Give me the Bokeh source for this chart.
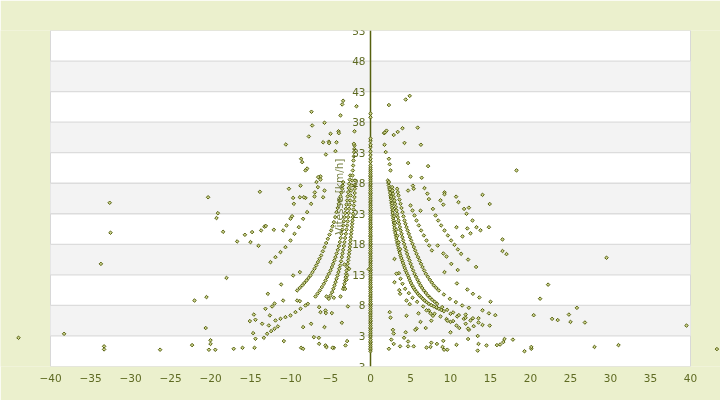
from bokeh.plotting import figure
from bokeh.models import Range1d, FixedTicker, Label, LabelSet, ColumnDataSource
from bokeh.core.properties import value
from bokeh.embed import file_html
from bokeh.resources import INLINE

# ---------------- data ----------------
title_text = "VITESSE vs PENTE"
x_title = "Pente [%]"
y_title = "Vitesse [km/h]"
x_ticks = [-40, -35, -30, -25, -20, -15, -10, -5, 0, 5, 10, 15, 20, 25, 30, 35, 40]
y_ticks = [-2, 3, 8, 13, 18, 23, 28, 33, 38, 43, 48, 53]
y_tick_labels = ["3", "3", "8", "13", "18", "23", "28", "33", "38", "43", "48", "53"]

# speeds recorded at 0 % slope
col0_v = [0.5, 0.8, 1.0, 1.3, 1.6, 1.9, 2.1, 2.4, 2.8, 3.0, 3.3, 3.6, 3.9, 4.2, 4.4, 4.7, 5.0,
          5.3, 5.5, 5.8, 6.1, 6.4, 6.7, 6.9, 7.2, 7.5, 7.8, 8.1, 8.3, 8.6, 8.9, 9.2, 9.5,
          9.7, 10.0, 10.3, 10.6, 10.9, 11.1, 11.4, 11.7, 12.0, 12.3, 12.5, 12.8, 13.1, 13.4,
          13.7, 13.9, 14.2, 14.5, 14.8, 15.1, 15.3, 15.6, 15.9, 16.2, 16.5, 16.7, 17.0, 17.3,
          17.6, 17.9, 18.1, 18.4, 18.7, 19.0, 19.3, 19.5, 19.8, 20.1, 20.4, 20.7, 20.9, 21.2,
          21.5, 21.8, 22.1, 22.3, 22.6, 22.9, 23.2, 23.5, 23.7, 24.0, 24.3, 24.6, 24.9, 25.1,
          25.4, 25.7, 26.0, 26.3, 26.5, 26.8, 27.1, 27.4, 27.7, 27.9, 28.2, 28.5, 28.8, 29.1,
          29.3, 29.6, 29.9, 30.2, 30.5, 30.9, 31.5, 32.0, 32.6, 33.2, 33.9, 34.3, 34.9, 35.3,
          38.8, 39.4]

# uphill bands
r1_p = [2.17, 2.29, 2.42, 2.5, 2.58, 2.67, 2.75, 2.79, 2.88, 2.96, 3.04, 3.17, 3.29, 3.42, 3.58,
        3.75, 3.96, 4.17, 4.38, 4.67, 4.92, 5.21, 5.54, 5.92, 6.33, 6.75, 7.29, 7.92, 8.54,
        9.17, 10.0, 10.83, 11.67, 12.5]
r1_v = [28.45, 27.63, 26.81, 26.0, 25.18, 24.36, 23.54, 22.72, 21.9, 21.09, 20.27, 19.45, 18.63,
        17.81, 17.0, 16.18, 15.36, 14.54, 13.72, 12.9, 12.08, 11.27, 10.56, 9.9, 9.36, 8.81,
        8.26, 7.83, 7.45, 7.06, 6.63, 6.19, 5.81, 5.54]
r1m_p = [2.23, 2.35, 2.46, 2.54, 2.62, 2.71, 2.77, 2.83, 2.92, 3.0, 3.1, 3.23, 3.35, 3.5, 3.66,
         3.85, 4.06, 4.27, 4.52, 4.8, 5.06, 5.37, 5.73, 6.12, 6.54, 7.02, 7.6, 8.23, 8.85]
r1m_v = [28.04, 27.22, 26.4, 25.59, 24.77, 23.95, 23.13, 22.31, 21.5, 20.68, 19.86, 19.04, 18.22,
         17.4, 16.59, 15.77, 14.95, 14.13, 13.31, 12.49, 11.67, 10.91, 10.23, 9.63, 9.08, 8.53,
         8.04, 7.64, 7.25]
r1b_p = [2.3, 2.44, 2.6, 2.72, 2.84, 2.95, 3.08, 3.22, 3.36, 3.52, 3.7]
r1b_v = [28.2, 27.0, 25.8, 24.7, 23.6, 22.6, 21.5, 20.4, 19.4, 18.3, 17.2]
r2_p = [2.71, 2.83, 3.0, 3.17, 3.33, 3.5, 3.67, 3.88, 4.08, 4.33, 4.58, 4.88, 5.17, 5.5, 5.88,
        6.25, 6.67, 7.17, 7.71, 8.33, 8.96, 9.58, 10.33, 11.04, 11.88]
r2_v = [27.36, 26.27, 25.18, 24.09, 23.0, 21.9, 20.81, 19.72, 18.63, 17.54, 16.45, 15.36, 14.27,
        13.17, 12.19, 11.27, 10.45, 9.63, 8.92, 8.26, 7.72, 7.28, 6.85, 6.41, 5.97]
r2m_p = [2.77, 2.91, 3.08, 3.25, 3.41, 3.58, 3.77, 3.98, 4.2, 4.45, 4.73, 5.02, 5.33, 5.69, 6.06,
         6.46, 6.92, 7.44, 8.02]
r2m_v = [26.81, 25.72, 24.63, 23.54, 22.45, 21.36, 20.27, 19.17, 18.08, 16.99, 15.9, 14.81,
         13.72, 12.68, 11.73, 10.86, 10.04, 9.27, 8.59]
r3_p = [3.33, 3.5, 3.75, 4.0, 4.25, 4.5, 4.79, 5.08, 5.42, 5.75, 6.13, 6.5, 6.92, 7.42, 7.92,
        8.54, 9.17, 9.92, 10.67, 11.46, 12.29]
r3_v = [27.09, 26.0, 24.63, 23.27, 21.9, 20.81, 19.72, 18.63, 17.54, 16.45, 15.36, 14.27, 13.17,
        12.19, 11.27, 10.45, 9.79, 9.08, 8.54, 7.99, 7.61]
r3m_p = [3.41, 3.62, 3.87, 4.12, 4.37, 4.64, 4.93, 5.25, 5.58, 5.94, 6.31, 6.71, 7.17, 7.67, 8.23]
r3m_v = [26.54, 25.31, 23.95, 22.58, 21.36, 20.27, 19.17, 18.08, 17.0, 15.9, 14.81, 13.72, 12.68,
         11.73, 10.86]
r4_p = [5.0, 5.25, 5.5, 5.75, 6.04, 6.33, 6.67, 7.0, 7.33, 7.67]
r4_v = [24.36, 23.54, 22.72, 21.9, 21.09, 20.27, 19.45, 18.63, 17.81, 17.0]
r5_p = [8.13, 8.46, 8.83, 9.25, 9.67, 10.08, 10.5, 10.92, 11.33]
r5_v = [22.72, 21.9, 21.09, 20.27, 19.45, 18.63, 17.92, 17.16, 16.45]
r6_p = [3.54, 3.75, 4.0, 4.33, 4.79, 5.25, 5.83, 6.58, 7.29, 8.0, 8.75, 9.5, 10.33]
r6_v = [13.28, 12.36, 11.54, 10.72, 10.01, 9.25, 8.59, 7.83, 7.17, 6.63, 6.19, 5.76, 5.43]

# downhill bands
la_p = [-12.5, -11.88, -11.25, -10.63, -10.0, -9.5, -8.96, -8.42, -7.92, -7.42, -7.0, -6.58, -6.25]
la_v = [15.08, 15.9, 16.72, 17.54, 18.63, 19.72, 20.81, 22.18, 23.27, 24.63, 25.83, 27.36, 29.11]
lb_p = [-9.17, -8.54, -8.0, -7.5, -7.0, -6.58, -6.17, -5.75, -5.33, -4.92, -4.58, -4.25, -3.96,
        -3.75, -3.54, -3.42]
lb_v = [10.45, 11.27, 12.08, 12.9, 14.0, 15.08, 16.18, 17.54, 18.9, 20.27, 21.63, 23.27, 24.63,
        25.83, 27.09, 28.18]
lbm_p = [-8.85, -8.27, -7.75, -7.25, -6.79, -6.37, -5.96, -5.54, -5.12, -4.75, -4.41, -4.1,
         -3.85, -3.65, -3.48]
lbm_v = [10.86, 11.68, 12.49, 13.45, 14.54, 15.63, 16.86, 18.22, 19.58, 20.95, 22.45, 23.95,
         25.23, 26.46, 27.63]
lc_p = [-6.88, -6.33, -5.83, -5.42, -5.0, -4.67, -4.38, -4.08, -3.83, -3.63, -3.42, -3.25, -3.08,
        -2.92, -2.79, -2.67, -2.54]
lc_v = [9.46, 10.45, 11.54, 12.63, 13.72, 14.81, 15.9, 17.1, 18.36, 19.72, 21.09, 22.45, 23.81,
        25.18, 26.54, 27.9, 29.27]
lcm_p = [-6.6, -6.08, -5.62, -5.21, -4.83, -4.52, -4.23, -3.95, -3.73, -3.52, -3.33, -3.17, -3.0,
         -2.85, -2.73, -2.6]
lcm_v = [9.95, 11.0, 12.08, 13.17, 14.27, 15.36, 16.5, 17.73, 19.04, 20.4, 21.77, 23.13, 24.5,
         25.86, 27.22, 28.58]
ld_p = [-5.21, -4.79, -4.5, -4.25, -4.0, -3.79, -3.58, -3.42, -3.25, -3.08, -2.92, -2.79, -2.67,
        -2.54, -2.42, -2.29, -2.21, -2.13, -2.04, -2.0]
ld_v = [9.08, 10.17, 11.27, 12.36, 13.45, 14.54, 15.9, 17.1, 18.36, 19.72, 21.09, 22.45, 23.81,
        25.18, 26.81, 28.45, 30.09, 31.72, 33.09, 34.18]
ldm_p = [-5.0, -4.64, -4.37, -4.12, -3.9, -3.68, -3.5, -3.33, -3.17, -3.0, -2.85, -2.73, -2.6,
         -2.48, -2.35, -2.25, -2.17, -2.08, -2.02]
ldm_v = [9.62, 10.72, 11.81, 12.9, 14.0, 15.22, 16.5, 17.73, 19.04, 20.4, 21.77, 23.13, 24.5,
         26.0, 27.63, 29.27, 30.9, 32.4, 33.6]
le_p = [-3.33, -3.17, -3.04, -2.92, -2.79, -2.67, -2.58, -2.5, -2.42, -2.33, -2.25, -2.17, -2.08,
        -2.0, -1.96, -1.92]
le_v = [11.0, 12.08, 13.17, 14.27, 15.36, 16.45, 17.54, 18.63, 19.72, 20.81, 21.9, 23.0, 24.36,
        25.72, 27.09, 28.45]
lem_p = [-3.25, -3.1, -2.98, -2.85, -2.73, -2.62, -2.54, -2.46, -2.37, -2.29, -2.21, -2.12,
         -2.04, -1.98, -1.94]
lem_v = [11.54, 12.63, 13.72, 14.81, 15.9, 17.0, 18.08, 19.17, 20.27, 21.36, 22.45, 23.68,
         25.04, 26.4, 27.77]
lg_p = [-11.88, -11.25, -10.63, -10.0, -9.38, -8.75, -8.13, -7.83]
lg_v = [5.54, 5.81, 6.08, 6.36, 6.9, 7.45, 7.99, 8.26]
lh_p = [-13.33, -12.92, -12.42, -12.0, -11.58]
lh_v = [2.7, 3.36, 3.79, 4.17, 4.56]

# isolated readings
iso_p = [18.25, 14.0, 14.9, 12.3, 11.7, 12.0, 12.75, 13.25, 13.75, 14.8, 12.5, 12.1, 10.75, 11.5,
         16.5, 16.5, 17.0, 13.2, 12.2, 10.9, 10.8, 12.1, 12.8, 13.6, 15.0, 21.2, 20.4, 15.6, 14.0,
         14.8, 12.8, 13.5, 13.5, 12.9, 14.0, 14.9, 12.3, 13.4, 12.2, 16.75, 16.6, 16.2, 15.8,
         17.8, 19.25, 20.1, 14.5, 13.5, 13.4, 10.75, 9.2, 9.0, 9.6, 9.1, 8.3, 7.6, 7.5, 7.0, 5.4,
         4.7, 4.7, 4.2, 3.7, 2.9, 2.3, 2.6, 4.4, 2.8, 2.9, 2.4, 2.5, 4.5, 5.75, 5.6, 6.9, 6.25,
         6.0, 7.0, 7.5, 7.8, 8.25, 7.6, 10.0, 10.75, 11.1, 9.6, 10.0, 11.9, 12.2, 11.9, 4.9, 4.5,
         3.7, 3.6, 3.0, 3.25, 3.0, 6.3, 4.25, 5.9, 4.0, 3.4, 2.9, 2.0, 1.7, 1.8, 1.75, 1.9, 2.3,
         2.4, 2.5, 4.7, 7.2, 6.4, 5.0, 5.3, 5.4, 4.7, 6.75, 7.1, 7.3, 9.25, 9.25, 8.75, 9.1, 7.8,
         10.7, 11.0, 6.25, 8.4, 9.1, 9.5, 10.1, 9.25, 2.3, 4.4, 4.9,
         29.5, 22.2, 25.8, 22.7, 23.4, 24.8, 25.0, 26.8, 39.5, 20.1, 28.0, 31.0, 43.3,
         -20.3, -19.08, -19.25, -18.42, -18.0, -20.5, -20.6, -20.0, -20.0, -20.2, -19.4, -17.1,
         -16.0, -14.5, -16.67, -15.7, -15.0, -14.8, -14.0, -13.83, -13.67, -13.25, -13.08,
         -12.08, -10.58, -10.2, -8.75, -9.58, -9.67, -10.0, -9.8, -10.92, -10.5, -8.67, -8.54,
         -8.13, -7.92, -8.83, -8.13, -7.38, -7.29, -7.71, -5.75, -5.0, -5.92, -5.21, -5.17,
         -4.25, -4.0, -3.96, -5.58, -4.38, -3.42, -3.54, -1.75, -3.75, -2.0, -2.08, -6.54,
         -6.75, -6.25, -5.75, -5.92, -6.96, -8.33, -12.83, -11.17, -10.92, -12.0, -12.3,
         -13.13, -14.58, -14.38, -15.08, -13.54, -12.71, -14.67, -14.38, -12.58, -10.83,
         -9.67, -8.83, -9.17, -8.83, -8.42, -7.42, -8.67, -8.42, -7.08, -6.46, -6.42, -5.75,
         -6.25, -5.63, -5.58, -4.83, -6.42, -5.5, -4.58, -3.75, -3.42, -3.17, -2.83, -3.58,
         -2.92, -3.13, -4.58, -4.75, -5.63, -5.5, -3.25, -2.67, -2.92, -3.0, -0.21,
         -32.6, -32.5, -33.7, -22.0, -38.3, -44.0, -33.3, -33.3, -26.3, -22.3]
iso_v = [30.1, 26.1, 24.6, 24.0, 23.8, 23.0, 21.9, 20.8, 20.3, 20.8, 19.8, 20.6, 20.8, 19.3,
         18.8, 16.9, 16.4, 14.3, 15.5, 13.8, 11.6, 10.6, 9.9, 9.3, 8.6, 9.1, 6.4, 6.4, 7.2,
         6.7, 5.9, 5.9, 5.2, 4.6, 4.8, 4.7, 4.0, 3.0, 2.5, 2.5, 2.0, 1.6, 1.5,
         2.4, 0.5, 0.9, 1.45, 1.7, 0.6, 1.55, 0.75, 1.2, 0.75, 2.2, 1.7, 1.9, 1.2, 1.1, 1.3,
         1.3, 2.1, 2.7, 1.3, 1.7, 0.9, 2.4, 3.6, 4.0, 3.4, 6.9, 6.0, 6.3, 4.2, 4.0, 4.3, 5.3,
         6.7, 7.2, 6.7, 6.3, 7.7, 5.5, 3.6, 4.7, 4.3, 5.5, 5.3, 5.0, 4.2, 6.5, 8.2, 8.8,
         9.9, 10.5, 11.8, 13.2, 15.6, 34.3, 34.6, 37.1, 37.0, 36.4, 35.9, 36.6, 36.2, 36.3, 34.3, 33.1, 32.0,
         31.1, 30.1, 31.3, 30.8, 28.9, 29.1, 27.6, 27.1, 26.8, 27.2, 26.3, 25.4, 26.5, 26.2, 25.2, 24.5, 23.8,
         25.8, 24.9, 23.5, 17.8, 16.5, 16.0, 14.8, 13.45, 40.8, 41.7, 42.3,
         15.8, 11.4, 7.6, 5.8, 5.6, 6.5, 5.3, 5.2, 4.7, 1.2, 1.2, 1.5, 0.85,
         25.7, 23.1, 22.3, 20.05, 12.5, 9.36, 4.3, 2.3, 1.7, 0.74, 0.74, 0.9,
         1.06, 1.06, 18.47, 19.56, 18.36, 20.0, 17.76, 26.6, 20.27, 20.9, 21.0,
         20.38, 34.34, 27.1, 27.6, 24.63, 25.6, 22.2, 22.6, 20.27, 21.09, 32.0, 31.45,
         30.1, 30.4, 25.7, 25.6, 39.7, 37.45, 35.65, 37.9, 36.1, 34.7, 34.8, 34.56,
         34.7, 36.5, 36.2, 32.7, 33.25, 41.5, 40.9, 40.6, 39.1, 36.5, 34.45, 29.0,
         28.2, 28.6, 26.8, 25.7, 26.5, 25.7, 9.9, 11.43, 8.8, 8.3, 7.83,
         7.45, 6.5, 5.65, 5.43, 5.0, 4.72, 3.46, 2.54, 6.36, 2.16,
         12.9, 13.45, 8.8, 8.7, 4.45, 5.0, 1.06, 0.9, 2.8, 2.7, 1.72, 4.45,
         6.9, 7.17, 6.74, 6.74, 7.72, 9.46, 9.25, 9.46, 10.7, 10.7, 7.83, 5.16,
         2.16, 1.45, 1.06, 1.06, 1.45, 1.17, 14.7, 14.0, 12.9, 12.2, 13.9,
         24.8, 19.9, 14.8, 8.8, 3.35, 2.7, 1.3, 0.8, 0.75, 1.5]

pente = ([0.0] * len(col0_v) + r1_p + r1m_p + r1b_p + r2_p + r2m_p + r3_p + r3m_p + r4_p
         + r5_p + r6_p + la_p + lb_p + lbm_p + lc_p + lcm_p + ld_p + ldm_p + le_p + lem_p
         + lg_p + lh_p + iso_p)
vitesse = (col0_v + r1_v + r1m_v + r1b_v + r2_v + r2m_v + r3_v + r3m_v + r4_v
           + r5_v + r6_v + la_v + lb_v + lbm_v + lc_v + lcm_v + ld_v + ldm_v + le_v + lem_v
           + lg_v + lh_v + iso_v)

# ---------------- style ----------------
BG = "#ebf0cd"
OLIVE = "#56600f"
TXT = "#5e6a22"
FONT = "DejaVu Sans"

x0, x1 = x_ticks[0], x_ticks[-1]
y0, y1 = y_ticks[0], y_ticks[-1]

p = figure(width=720, height=400, output_backend="svg", toolbar_location=None,
           x_range=Range1d(-46.25, 43.75), y_range=Range1d(y0, y1),
           y_axis_location=None, min_border_left=0, min_border_right=0,
           min_border_top=30, min_border_bottom=34,
           background_fill_color=BG, border_fill_color=BG, outline_line_color=None,
           styles={"position": "fixed", "left": "0px", "top": "0px"})
p.xgrid.visible = False
p.ygrid.visible = False

# plotting area, bands and grid
p.quad(left=[x0], right=[x1], bottom=[y0], top=[y1], fill_color="white",
       line_color="#d8d8d8", line_width=1)
p.quad(left=x0, right=x1, bottom=y_ticks[1:-1:2], top=y_ticks[2::2],
       fill_color="#f3f3f3", line_color=None)
p.segment(x0=x0, x1=x1, y0=y_ticks[1:-1], y1=y_ticks[1:-1], line_color="#dcdcdc", line_width=1.3)
p.segment(x0=[0], x1=[0], y0=[y0], y1=[y1], line_color=OLIVE, line_width=1.5)

p.scatter(pente, vitesse, marker="square", size=2.5, angle=0.785,
          line_color=OLIVE, fill_color="#cdd58e", line_width=1)

# x axis
ax = p.xaxis[0]
ax.ticker = FixedTicker(ticks=x_ticks)
ax.axis_line_color = None
ax.major_tick_line_color = None
ax.minor_tick_line_color = None
ax.major_tick_out = 0
ax.major_tick_in = 0
ax.major_label_standoff = 7
ax.major_label_text_color = TXT
ax.major_label_text_font = FONT
ax.major_label_text_font_size = "10.5px"

# y tick labels next to the zero line
ysrc = ColumnDataSource(dict(x=[0] * len(y_ticks), y=y_ticks, t=y_tick_labels))
p.add_layout(LabelSet(x="x", y="y", text="t", source=ysrc, x_offset=-5,
                      text_align="right", text_baseline="middle",
                      text_font=value(FONT), text_font_size="10.5px", text_color=TXT))

p.add_layout(Label(x=360, y=356, x_units="screen", y_units="screen", text=title_text,
                   text_align="center", text_baseline="middle", text_font=FONT,
                   text_font_size="12px", text_color=TXT))
p.add_layout(Label(x=338, y=170, x_units="screen", y_units="screen", text=y_title,
                   angle=90, angle_units="deg", text_align="center", text_baseline="middle",
                   text_font=FONT, text_font_size="10.5px", text_color=TXT, text_alpha=0.85))
p.add_layout(Label(x=690, y=-28, x_units="screen", y_units="screen", text=x_title,
                   text_align="right", text_baseline="middle", text_font=FONT,
                   text_font_size="10.5px", text_color=TXT))

open("out.html", "w").write(file_html(p, INLINE))
